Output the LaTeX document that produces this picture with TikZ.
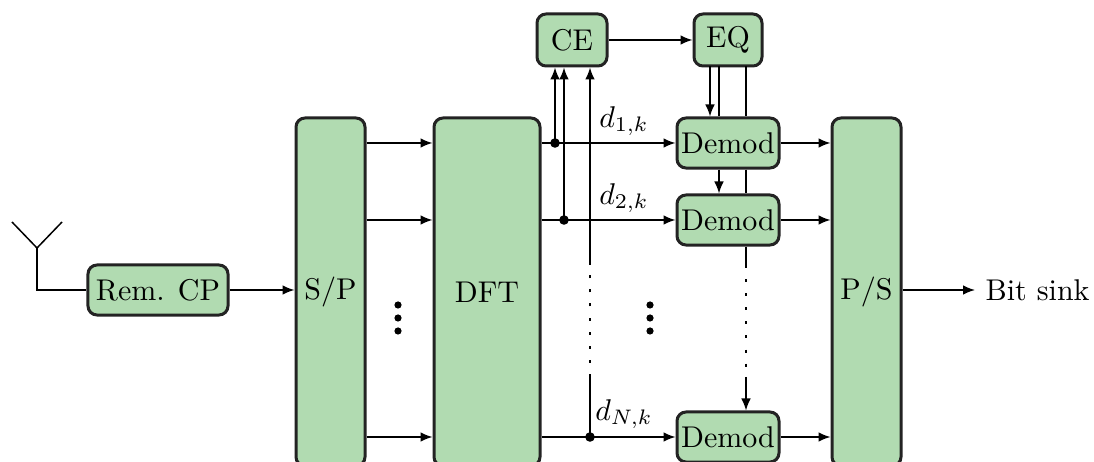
\documentclass[tikz,border=0pt]{standalone}
\usepackage{amsmath, amssymb}
\usetikzlibrary{arrows.meta}
\definecolor{blkgreen}{RGB}{177,219,177}
\definecolor{blkline}{RGB}{35,35,35}
\begin{document}
\begin{tikzpicture}[x=0.33333pt, y=-0.33333pt, >={Latex[length=4pt,width=3.2pt]}]
    \tikzset{blk/.style={draw=blkline, fill=blkgreen, line width=1pt, rounded corners=3pt, inner sep=0pt}}
    \tikzset{wire/.style={line width=0.5pt}}
    \tikzset{skip/.style={line width=0.5pt, dash pattern=on 1pt off 3.7pt}}
    \tikzset{junc/.style={circle, fill=black, inner sep=0pt, minimum size=3.2pt}}
    \useasboundingbox (0,0) rectangle (1094,462);
    \clip (0,0) rectangle (1094,462);
    \node[blk, minimum width=46.67pt, minimum height=16.67pt] (rcp) at (158,290) {Rem. CP};
    \node[blk, minimum width=23pt, minimum height=116pt] (sp) at (330.5,292) {S/P};
    \node[blk, minimum width=35.33pt, minimum height=116pt] (dft) at (487,292) {DFT};
    \node[blk, minimum width=23pt, minimum height=116pt] (ps) at (866.5,292) {P/S};
    \node[blk, minimum width=23.33pt, minimum height=17.33pt] (ce) at (572,40) {CE};
    \node[blk, minimum width=22.67pt, minimum height=17.33pt] (eq) at (728,40) {EQ};
    \node[blk, minimum width=34pt, minimum height=16.67pt] (dm1) at (728,143) {Demod};
    \node[blk, minimum width=34pt, minimum height=16.67pt] (dm2) at (728,220) {Demod};
    \node[blk, minimum width=34pt, minimum height=16.67pt] (dmN) at (728,437) {Demod};
    \node[anchor=west, inner sep=3.33pt] (sink) at (975,290) {Bit sink};
    \node (lab1) at (624,121) {$d_{1,k}$};
    \node (lab2) at (624,198) {$d_{2,k}$};
    \node (labN) at (624,414) {$d_{N,k}$};
    \coordinate (ant) at (37,248);
    \coordinate (antl) at (12,222);
    \coordinate (antr) at (62,222);
    \coordinate (j1) at (555,143);
    \coordinate (j2) at (564,220);
    \coordinate (jN) at (590,437);
    \coordinate (gapNa) at (590,377);
    \coordinate (gapNb) at (590,265);
    \coordinate (eqa) at (710,66);
    \coordinate (eqb) at (719,66);
    \coordinate (eqc) at (746,66);
    \coordinate (gapMa) at (746,265);
    \coordinate (gapMb) at (746,377);
    \draw[wire] (antl) -- (ant) -- (antr);
    \draw[wire] (ant) |- (rcp.west);
    \draw[wire, ->] (rcp.east) -- (sp.west |- rcp);
    \draw[wire, ->] (sp.east |- dm1) -- (dft.west |- dm1);
    \draw[wire, ->] (sp.east |- dm2) -- (dft.west |- dm2);
    \draw[wire, ->] (sp.east |- dmN) -- (dft.west |- dmN);
    \draw[wire, ->] (dft.east |- dm1) -- (dm1.west);
    \draw[wire, ->] (dft.east |- dm2) -- (dm2.west);
    \draw[wire, ->] (dft.east |- dmN) -- (dmN.west);
    \draw[wire, ->] (j1) -- (j1 |- ce.south);
    \draw[wire, ->] (j2) -- (j2 |- ce.south);
    \draw[wire] (jN) -- (gapNa);
    \draw[skip] (gapNa) -- (gapNb);
    \draw[wire, ->] (gapNb) -- (gapNb |- ce.south);
    \node[junc] at (j1) {};
    \node[junc] at (j2) {};
    \node[junc] at (jN) {};
    \draw[wire, ->] (ce) -- (eq);
    \draw[wire, ->] (eqa) -- (eqa |- dm1.north);
    \draw[wire] (eqb) -- (eqb |- dm1.north);
    \draw[wire, ->] (eqb |- dm1.south) -- (eqb |- dm2.north);
    \draw[wire] (eqc) -- (eqc |- dm1.north);
    \draw[wire] (eqc |- dm1.south) -- (eqc |- dm2.north);
    \draw[wire] (eqc |- dm2.south) -- (gapMa);
    \draw[skip] (gapMa) -- (gapMb);
    \draw[wire, ->] (gapMb) -- (gapMb |- dmN.north);
    \draw[wire, ->] (dm1.east) -- (ps.west |- dm1);
    \draw[wire, ->] (dm2.east) -- (ps.west |- dm2);
    \draw[wire, ->] (dmN.east) -- (ps.west |- dmN);
    \draw[wire, ->] (ps.east |- sink) -- (sink.west);
    \foreach \yy in {305,318,331} {
        \fill (398,\yy) circle (1.2pt);
        \fill (650,\yy) circle (1.2pt);
    }
\end{tikzpicture}
\end{document}
